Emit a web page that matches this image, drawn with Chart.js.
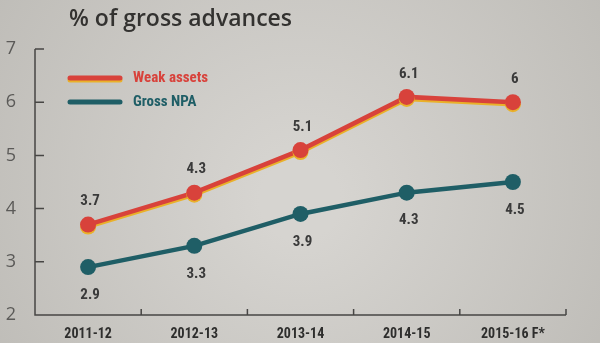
<!DOCTYPE html>
<html>
<head>
<meta charset="utf-8">
<script src="https://cdn.jsdelivr.net/npm/chart.js@4.4.1/dist/chart.umd.min.js"></script>
<style>
  html, body { margin: 0; padding: 0; background: #cac8c3; }
  canvas { display: block; }
</style>
</head>
<body>
<canvas id="npaChart" width="600" height="343"></canvas>
<script>
var years = ['2011-12', '2012-13', '2013-14', '2014-15', '2015-16 F*'];
var weakAssets = [3.7, 4.3, 5.1, 6.1, 6];
var grossNpa = [2.9, 3.3, 3.9, 4.3, 4.5];
var yMin = 2, yMax = 7;
var chartTitle = '% of gross advances';

var redCol = '#d8423b';
var tealCol = '#1f5e66';
var inkCol = '#3a3a3a';
var narrow = "'Liberation Sans Narrow', 'Roboto Condensed', Roboto, sans-serif";

// photographed paper look
var paperBg = {
    id: 'paperBg',
    beforeDraw: function (chart) {
        var ctx = chart.ctx;
        var g = ctx.createRadialGradient(300, 200, 40, 300, 170, 420);
        g.addColorStop(0, '#d6d4d0');
        g.addColorStop(1, '#bab8b3');
        ctx.save();
        ctx.fillStyle = g;
        ctx.fillRect(0, 0, chart.width, chart.height);
        ctx.restore();
    }
};

// axis lines with ticks pointing inwards
var frame = {
    id: 'frame',
    beforeDatasetsDraw: function (chart) {
        var ctx = chart.ctx;
        var area = chart.chartArea;
        var y = chart.scales.y, x = chart.scales.x;
        ctx.save();
        ctx.strokeStyle = '#474644';
        ctx.lineWidth = 1.5;
        ctx.beginPath();
        ctx.moveTo(area.left, y.getPixelForValue(yMax));
        ctx.lineTo(area.left, area.bottom);
        ctx.lineTo(area.right, area.bottom);
        for (var v = yMin + 1; v <= yMax; v++) {
            var py = y.getPixelForValue(v);
            ctx.moveTo(area.left, py);
            ctx.lineTo(area.left + 9, py);
        }
        var step = (area.right - area.left) / years.length;
        for (var i = 1; i <= years.length; i++) {
            var px = x.getPixelForValue(i - 1) + step / 2;
            ctx.moveTo(px, area.bottom);
            ctx.lineTo(px, area.bottom - 6);
        }
        ctx.stroke();
        ctx.restore();
    }
};

// yellow misprint shadow under the red line
var lineShadow = {
    id: 'lineShadow',
    beforeDatasetDraw: function (chart, args) {
        if (args.index !== 0) return;
        var ctx = chart.ctx;
        ctx.save();
        ctx.shadowColor = '#e9b12a';
        ctx.shadowOffsetY = 2;
        ctx.shadowOffsetX = 0;
        ctx.shadowBlur = 0;
    },
    afterDatasetDraw: function (chart, args) {
        if (args.index !== 0) return;
        chart.ctx.restore();
    }
};

var valueLabels = {
    id: 'valueLabels',
    afterDatasetsDraw: function (chart) {
        var ctx = chart.ctx;
        ctx.save();
        ctx.font = 'bold 15px ' + narrow;
        ctx.fillStyle = inkCol;
        ctx.textAlign = 'center';
        ctx.textBaseline = 'middle';
        chart.data.datasets.forEach(function (ds, di) {
            chart.getDatasetMeta(di).data.forEach(function (pt, i) {
                var off = di === 0 ? -23 : 28;
                ctx.fillText(String(ds.data[i]), pt.x + 2, pt.y + off);
            });
        });
        ctx.restore();
    }
};

var titleLegend = {
    id: 'titleLegend',
    afterDraw: function (chart) {
        var ctx = chart.ctx;
        ctx.save();
        ctx.fillStyle = '#333230';
        ctx.font = '600 23px "Open Sans", sans-serif';
        ctx.textBaseline = 'middle';
        ctx.fillText(chartTitle, 69, 19);

        var rows = [[redCol, 78], [tealCol, 102]];
        chart.data.datasets.forEach(function (ds, i) {
            var ly = rows[i][1];
            ctx.lineCap = 'round';
            ctx.lineWidth = 5;
            if (i === 0) {
                ctx.strokeStyle = '#e9b12a';
                ctx.beginPath(); ctx.moveTo(70, ly + 2); ctx.lineTo(120, ly + 2); ctx.stroke();
            }
            ctx.strokeStyle = rows[i][0];
            ctx.beginPath(); ctx.moveTo(70, ly); ctx.lineTo(120, ly); ctx.stroke();
            ctx.fillStyle = rows[i][0];
            ctx.font = 'bold 15px ' + narrow;
            ctx.fillText(ds.label, 133, ly);
        });
        ctx.restore();
    }
};

var ctx = document.getElementById('npaChart').getContext('2d');
var npaChart = new Chart(ctx, {
    type: 'line',
    data: {
        labels: years,
        datasets: [{
            label: 'Weak assets',
            data: weakAssets,
            borderColor: redCol,
            backgroundColor: redCol,
            borderWidth: 4.5,
            pointRadius: 8,
            pointBorderWidth: 0,
            tension: 0
        }, {
            label: 'Gross NPA',
            data: grossNpa,
            borderColor: tealCol,
            backgroundColor: tealCol,
            borderWidth: 4.5,
            pointRadius: 8,
            pointBorderWidth: 0,
            tension: 0
        }]
    },
    options: {
        responsive: false,
        animation: false,
        events: [],
        layout: { padding: { top: 49, right: 34, left: 0, bottom: 0 } },
        plugins: {
            legend: { display: false },
            title: { display: false },
            tooltip: { enabled: false }
        },
        scales: {
            x: {
                offset: true,
                grid: { display: false },
                border: { display: false },
                ticks: {
                    padding: 3,
                    color: '#2e2e2d',
                    font: { family: narrow, size: 14, weight: 'bold' },
                    maxRotation: 0
                },
                afterFit: function (s) { s.height = 28; }
            },
            y: {
                min: yMin,
                max: yMax,
                grid: { display: false },
                border: { display: false },
                ticks: {
                    stepSize: 1,
                    padding: 11,
                    color: '#5b5a58',
                    font: { family: "'Open Sans', sans-serif", size: 18 }
                },
                afterFit: function (s) { s.width = 35; }
            }
        }
    },
    plugins: [paperBg, frame, lineShadow, valueLabels, titleLegend]
});
</script>
</body>
</html>
